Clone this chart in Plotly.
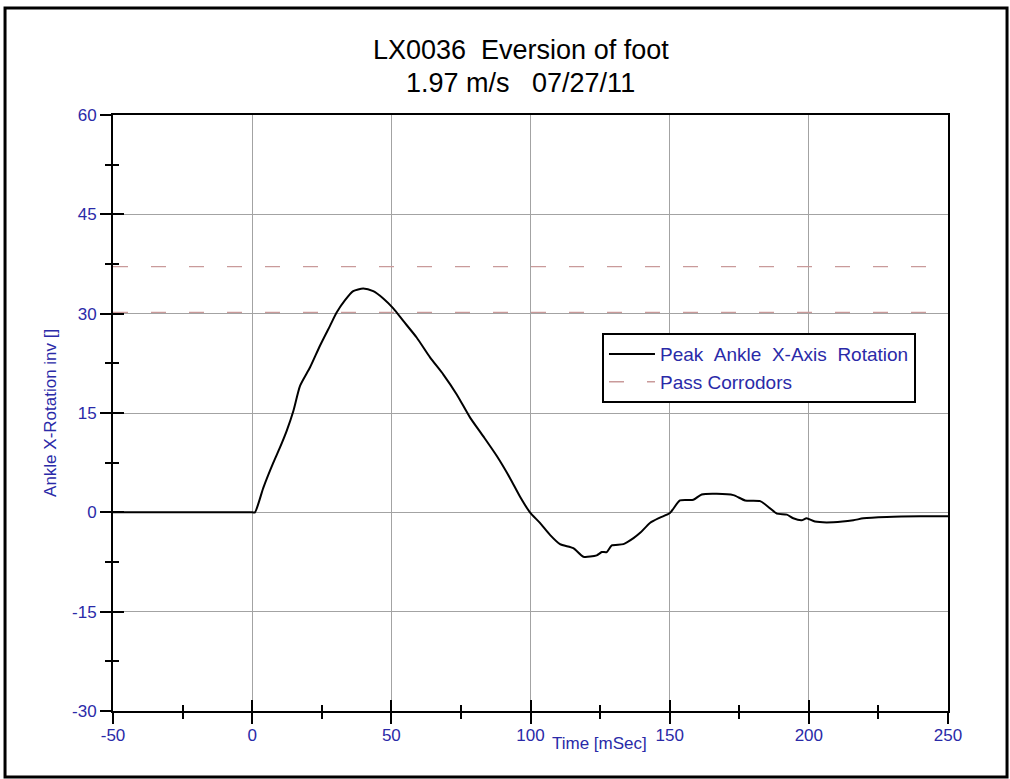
import plotly.graph_objects as go

# ---- data ----
time_ms = [-50, 0, 1.0, 4.0, 7.6, 10.0, 12.4, 14.8, 17.2, 20.8, 24.4, 28.0, 30.4, 33.3,
           36.3, 39.9, 43.5, 47.1, 50.7, 54.3, 59.1, 63.9, 68.7, 73.5, 78.3, 83.0,
           87.9, 92.6, 96.2, 99.8, 103.4, 107.0, 110.6, 115.4, 119.0, 123.8, 125.6,
           127.4, 129.2, 133.4, 137.0, 139.4, 142.9, 146.5, 150.1, 153.7, 158.5, 161.5,
           166.9, 172.9, 177.1, 182.5, 186.1, 188.5, 192.1, 194.4, 197.4, 199.2, 202.2,
           208.8, 216.0, 219.6, 228.0, 240, 250]
rotation = [0, 0, 0, 3.7, 7.5, 9.8, 12.3, 15.3, 19.1, 21.9, 25.2, 28.2, 30.2, 32.0,
            33.4, 33.8, 33.4, 32.3, 30.8, 28.9, 26.4, 23.4, 20.8, 17.8, 14.3, 11.5,
            8.5, 5.2, 2.4, 0.0, -1.6, -3.4, -4.8, -5.4, -6.7, -6.5, -6.0,
            -6.0, -5.0, -4.8, -3.9, -3.1, -1.6, -0.8, -0.1, 1.8, 1.9, 2.7,
            2.8, 2.6, 1.8, 1.7, 0.6, -0.2, -0.35, -0.9, -1.2, -0.9, -1.4,
            -1.5, -1.2, -0.9, -0.7, -0.6, -0.6]

corridor_x = [-50, 250]
corridor_upper = 37.1
corridor_lower = 30.2

x_range = [-50, 250]
y_range = [-30, 60]
x_tickvals = [-50, 0, 50, 100, 150, 200, 250]
x_ticktext = ["-50", "0", "50", "100", "150", "200", "250"]
y_tickvals = [-30, -15, 0, 15, 30, 45, 60]
y_ticktext = ["-30", "-15", "0", "15", "30", "45", "60"]

title_line1 = "LX0036\u00a0\u00a0Eversion of foot"
title_line2 = "1.97 m/s\u00a0\u00a0\u00a007/27/11"
curve_name = "Peak\u00a0\u00a0Ankle\u00a0\u00a0X-Axis\u00a0\u00a0Rotation"
corridor_name = "Pass Corrodors"
x_title = "Time [mSec]"
y_title = "Ankle X-Rotation inv []"

BLUE = "#2a2aa8"
FONT = "Liberation Sans, Arial, sans-serif"
TICK = "black"

fig = go.Figure()

fig.add_trace(go.Scatter(
    x=corridor_x + [None] + corridor_x,
    y=[corridor_upper] * 2 + [None] + [corridor_lower] * 2,
    mode="lines", name=corridor_name, legendrank=2,
    line=dict(color="#c99a9a", width=1.4, dash="15px,23px"),
    hoverinfo="skip",
))
fig.add_trace(go.Scatter(
    x=time_ms, y=rotation, mode="lines", name=curve_name, legendrank=1,
    line=dict(color="black", width=2, shape="spline", smoothing=0.6),
))
# invisible helper trace for the inside-tick overlay axes
fig.add_trace(go.Scatter(
    x=time_ms, y=rotation, xaxis="x2", yaxis="y2", mode="lines",
    line=dict(width=0), opacity=0, showlegend=False, hoverinfo="skip",
))

tickfont = dict(family=FONT, size=17, color=BLUE)

fig.update_layout(
    width=1010, height=779, autosize=False,
    margin=dict(l=113, r=62, t=115, b=68),
    paper_bgcolor="white", plot_bgcolor="white",
    font=dict(family=FONT),
    showlegend=True,
    xaxis=dict(
        range=x_range, tickmode="array", tickvals=x_tickvals, ticktext=x_ticktext,
        showgrid=True, gridcolor="#a3a3a3", gridwidth=1, zeroline=False,
        showline=True, linecolor="black", linewidth=2, mirror=True,
        ticks="outside", ticklen=11, tickwidth=2, tickcolor="black",
        tickfont=tickfont, ticklabelstandoff=-3,
        minor=dict(tickmode="linear", dtick=25, tick0=0, ticks="outside", ticklen=6,
                   tickwidth=2, tickcolor="black", showgrid=False),
    ),
    yaxis=dict(
        range=y_range, tickmode="array", tickvals=y_tickvals, ticktext=y_ticktext,
        showgrid=True, gridcolor="#a3a3a3", gridwidth=1, zeroline=False,
        showline=True, linecolor="black", linewidth=2, mirror=True,
        ticks="outside", ticklen=11, tickwidth=2, tickcolor="black",
        tickfont=tickfont,
        minor=dict(tickmode="linear", dtick=7.5, tick0=0, ticks="outside", ticklen=6,
                   tickwidth=2, tickcolor="black", showgrid=False),
    ),
    xaxis2=dict(
        overlaying="x", anchor="y2", side="bottom", range=x_range,
        tickmode="array", tickvals=x_tickvals,
        showgrid=False, zeroline=False, showline=False,
        ticks="inside", ticklen=11, tickwidth=2, tickcolor=TICK,
        showticklabels=False,
        minor=dict(tickmode="linear", dtick=25, tick0=0, ticks="inside", ticklen=6,
                   tickwidth=2, tickcolor=TICK, showgrid=False),
    ),
    yaxis2=dict(
        overlaying="y", anchor="x2", side="left", range=y_range,
        tickmode="array", tickvals=y_tickvals,
        showgrid=False, zeroline=False, showline=False,
        ticks="inside", ticklen=11, tickwidth=2, tickcolor=TICK,
        showticklabels=False,
        minor=dict(tickmode="linear", dtick=7.5, tick0=0, ticks="inside", ticklen=6,
                   tickwidth=2, tickcolor=TICK, showgrid=False),
    ),
    legend=dict(
        x=0.5856, y=0.634, xanchor="left", yanchor="top",
        bgcolor="white", bordercolor="black", borderwidth=2,
        font=dict(family=FONT, size=19, color=BLUE),
        itemwidth=46,
    ),
    annotations=[
        dict(text=title_line1, xref="paper", yref="paper", x=0.4886, y=1.1091,
             xanchor="center", yanchor="middle", showarrow=False,
             font=dict(family=FONT, size=27, color="black")),
        dict(text=title_line2, xref="paper", yref="paper", x=0.4886, y=1.0537,
             xanchor="center", yanchor="middle", showarrow=False,
             font=dict(family=FONT, size=27, color="black")),
        dict(text=y_title, xref="paper", yref="paper", x=-0.0755, y=0.5,
             textangle=-90, xanchor="center", yanchor="middle", showarrow=False,
             font=dict(family=FONT, size=17, color=BLUE)),
        dict(text=x_title, xref="paper", yref="paper", x=0.5832, y=-0.0537,
             xanchor="center", yanchor="middle", showarrow=False,
             font=dict(family=FONT, size=17, color=BLUE)),
    ],
    shapes=[
        dict(type="rect", xref="paper", yref="paper",
             x0=-0.1293, x1=1.0707, y0=-0.1107, y1=1.1795,
             line=dict(color="black", width=3), fillcolor="rgba(0,0,0,0)", layer="below"),
    ],
)

fig.write_html("out.html", config={"displayModeBar": False},
               post_script="document.body.style.margin='0';")
